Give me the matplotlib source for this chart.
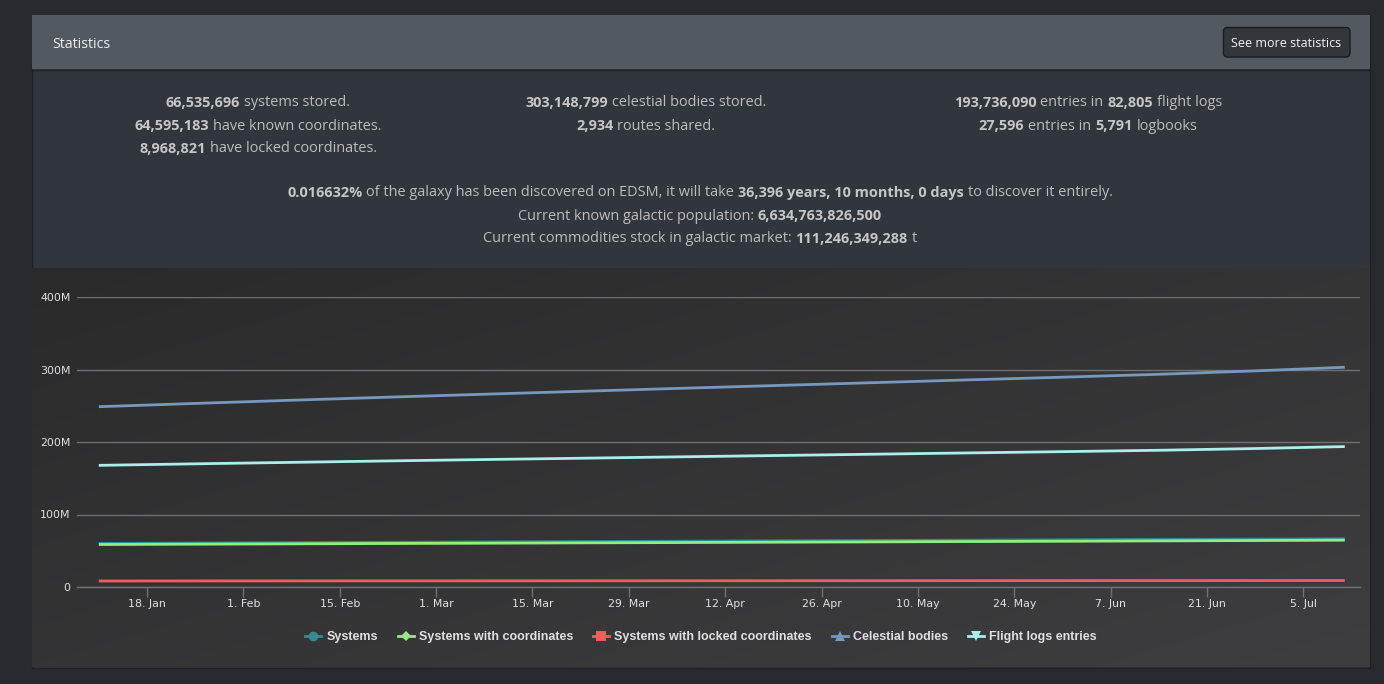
import numpy as np
import matplotlib
matplotlib.use("Agg")
import matplotlib.pyplot as plt
import matplotlib.dates as mdates
from matplotlib.patches import Rectangle, FancyBboxPatch
from matplotlib.lines import Line2D
from matplotlib import font_manager
from matplotlib.colors import to_rgb

# ---------------- data ----------------
dates = ['2021-01-11', '2021-01-25', '2021-02-08', '2021-02-22', '2021-03-08',
         '2021-03-22', '2021-04-05', '2021-04-19', '2021-05-03', '2021-05-17',
         '2021-05-31', '2021-06-14', '2021-06-28', '2021-07-11']
systems = [60.1, 60.6, 61.1, 61.6, 62.1, 62.6, 63.1, 63.6, 64.1, 64.6, 65.1, 65.6, 66.0, 66.5]
systems_coords = [58.6, 59.1, 59.5, 60.0, 60.4, 60.9, 61.3, 61.8, 62.2, 62.7, 63.1, 63.6, 64.1, 64.6]
systems_locked = [8.30, 8.35, 8.40, 8.45, 8.50, 8.55, 8.60, 8.65, 8.70, 8.75, 8.80, 8.85, 8.90, 8.97]
celestial = [248.7, 253.2, 257.6, 261.8, 265.9, 269.9, 273.9, 277.8, 281.7, 285.6, 289.4, 293.4, 298.1, 303.1]
flight_logs = [167.8, 169.9, 171.9, 173.9, 175.8, 177.6, 179.5, 181.3, 183.1, 184.9, 186.7, 188.6, 191.0, 193.7]

series_names = ['Systems', 'Systems with coordinates', 'Systems with locked coordinates',
                'Celestial bodies', 'Flight logs entries']
series_values = [systems, systems_coords, systems_locked, celestial, flight_logs]

tick_dates = ['2021-01-18', '2021-02-01', '2021-02-15', '2021-03-01', '2021-03-15',
              '2021-03-29', '2021-04-12', '2021-04-26', '2021-05-10', '2021-05-24',
              '2021-06-07', '2021-06-21', '2021-07-05']
tick_labels = ['18. Jan', '1. Feb', '15. Feb', '1. Mar', '15. Mar', '29. Mar', '12. Apr',
               '26. Apr', '10. May', '24. May', '7. Jun', '21. Jun', '5. Jul']
y_ticks = [0, 100, 200, 300, 400]
y_tick_labels = ['0', '100M', '200M', '300M', '400M']

header_title = 'Statistics'
button_text = 'See more statistics'
stats_col1 = [[('66,535,696', True), ('systems stored.', False)],
              [('64,595,183', True), ('have known coordinates.', False)],
              [('8,968,821', True), ('have locked coordinates.', False)]]
stats_col2 = [[('303,148,799', True), ('celestial bodies stored.', False)],
              [('2,934', True), ('routes shared.', False)]]
stats_col3 = [[('193,736,090', True), ('entries in', False), ('82,805', True), ('flight logs', False)],
              [('27,596', True), ('entries in', False), ('5,791', True), ('logbooks', False)]]
stats_center = [[('0.016632%', True), ('of the galaxy has been discovered on EDSM, it will take', False),
                 ('36,396 years, 10 months, 0 days', True), ('to discover it entirely.', False)],
                [('Current known galactic population:', False), ('6,634,763,826,500', True)],
                [('Current commodities stock in galactic market:', False), ('111,246,349,288', True), ('t', False)]]

# ---------------- style ----------------
W, H = 1384, 684
PX = 0.72  # points per pixel at dpi 100
colors = ['#2b908f', '#90ee7e', '#f45b5b', '#7798BF', '#aaeeee']
markers = ['o', 'D', 's', '^', 'v']
marker_sizes = [7, 5.5, 6.5, 7, 7]

available = {f.name for f in font_manager.fontManager.ttflist}
page_font = 'Open Sans' if 'Open Sans' in available else 'DejaVu Sans'
if 'Liberation Sans Narrow' in available:
    legend_font, legend_px = 'Liberation Sans Narrow', 14
elif 'Liberation Sans' in available:
    legend_font, legend_px = 'Liberation Sans', 12.5
else:
    legend_font, legend_px = 'DejaVu Sans', 11

fig = plt.figure(figsize=(W / 100, H / 100), dpi=100)
fig.patch.set_facecolor('#272a2f')

bg = fig.add_axes([0, 0, 1, 1], zorder=0)
bg.set_xlim(0, W)
bg.set_ylim(H, 0)
bg.axis('off')

# panel
bg.add_patch(Rectangle((32, 15), 1338, 653, facecolor='#31363c', edgecolor='#1d2024', lw=1))
bg.add_patch(Rectangle((32, 15), 1338, 54, facecolor='#525960', edgecolor='none'))
bg.plot([32, 1370], [69.5, 69.5], color='#1d2024', lw=1)
bg.text(52, 44, header_title, fontsize=14.3 * PX, color='#ececec', family=page_font,
        ha='left', va='center')
bg.add_patch(FancyBboxPatch((1223.5, 27.5), 126.5, 29.5,
                            boxstyle='round,pad=0,rounding_size=4',
                            facecolor='#33373c', edgecolor='#1a1c1f', lw=1))
bg.text(1286.5, 43.5, button_text, fontsize=12.5 * PX, color='#f2f2f2', family=page_font,
        ha='center', va='center')

# chart background gradient
c0, c1 = np.array(to_rgb('#2a2a2b')), np.array(to_rgb('#3e3e40'))
gx, gy = np.meshgrid(np.linspace(0, 1, 300), np.linspace(0, 1, 100))
t = (gx + gy) / 2
grad = c0[None, None, :] * (1 - t[..., None]) + c1[None, None, :] * t[..., None]
bg.imshow(grad, extent=(32, 1370, 667, 268), aspect='auto', origin='upper',
          interpolation='bilinear', zorder=1)
bg.set_xlim(0, W)
bg.set_ylim(H, 0)

renderer = fig.canvas.get_renderer()


def text_width(s, bold, size):
    tt = bg.text(0, 0, s, fontsize=size * PX, family=page_font,
                 weight='bold' if bold else 'normal')
    w = tt.get_window_extent(renderer).width
    tt.remove()
    return w


def rich_line(cx, y, segs, size=14.5, color='#bdbdbd'):
    space = text_width('a a', False, size) - text_width('aa', False, size)
    widths = [text_width(s, b, size) for s, b in segs]
    total = sum(widths) + space * (len(segs) - 1)
    x = cx - total / 2
    for (s, b), w in zip(segs, widths):
        bg.text(x, y, s, fontsize=size * PX, family=page_font,
                weight='bold' if b else 'normal', color='#c6c6c6' if b else color,
                ha='left', va='center')
        x += w + space


for i, segs in enumerate(stats_col1):
    rich_line(258, 103 + 23 * i, segs)
for i, segs in enumerate(stats_col2):
    rich_line(645.5, 103 + 23 * i, segs)
for i, segs in enumerate(stats_col3):
    rich_line(1088, 103 + 23 * i, segs)
for i, segs in enumerate(stats_center):
    rich_line(700, 193 + 23 * i, segs)

# ---------------- chart ----------------
ax = fig.add_axes([77 / W, (H - 587) / H, (1360 - 77) / W, (587 - 297) / H], zorder=2)
ax.set_facecolor('none')

x = np.array(dates, dtype='datetime64[D]').astype('datetime64[ms]').astype(object)
for vals, col in zip(series_values, colors):
    ax.plot(x, np.array(vals) * 1e6, color=col, lw=2, solid_capstyle='butt', zorder=3)

ax.set_ylim(0, 400e6)
ax.set_yticks(np.array(y_ticks) * 1e6)
ax.set_yticklabels(y_tick_labels)
xmin = mdates.datestr2num('2021-01-07 20:00')
xmax = mdates.datestr2num('2021-07-13 05:00')
ax.set_xlim(xmin, xmax)
ax.set_xticks([mdates.datestr2num(d) for d in tick_dates])
ax.set_xticklabels(tick_labels)

ax.grid(axis='y', color='#707073', lw=1)
ax.set_axisbelow(True)
for s in ['top', 'left', 'right']:
    ax.spines[s].set_visible(False)
ax.spines['bottom'].set_color('#707073')
ax.spines['bottom'].set_linewidth(1)
ax.tick_params(axis='y', length=0, pad=4.5, labelsize=11 * PX, labelcolor='#E0E0E3')
ax.tick_params(axis='x', length=10 * PX, width=1, color='#707073', direction='out',
               pad=1.5, labelsize=11 * PX, labelcolor='#E0E0E3')
for lab in ax.get_xticklabels() + ax.get_yticklabels():
    lab.set_family('DejaVu Sans')

handles = [Line2D([], [], color=c, lw=2, marker=m, markersize=ms, markeredgewidth=0)
           for c, m, ms in zip(colors, markers, marker_sizes)]
fs = legend_px * PX
leg = ax.legend(handles, series_names, loc='center', ncol=5, frameon=False,
                bbox_to_anchor=(701 / W, (H - 637) / H), bbox_transform=fig.transFigure,
                handlelength=16 / legend_px, handletextpad=5 / legend_px,
                columnspacing=20 / legend_px,
                prop={'family': legend_font, 'weight': 'bold', 'size': fs})
for txt in leg.get_texts():
    txt.set_color('#E0E0E3')

fig.savefig('out.png', dpi=100, facecolor=fig.get_facecolor())
